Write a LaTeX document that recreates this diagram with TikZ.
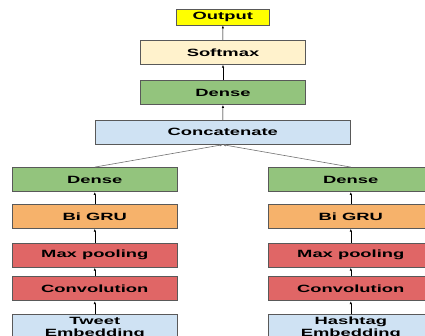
\documentclass[tikz,border=0pt]{standalone}
\usepackage{fontspec}
\newfontfamily\layerfont{Liberation Sans Bold}[FakeStretch=1.75]
\usetikzlibrary{arrows.meta}
\definecolor{outyellow}{HTML}{FFFF00}
\definecolor{softcream}{HTML}{FFF2CC}
\definecolor{densegreen}{HTML}{93C47D}
\definecolor{embblue}{HTML}{CFE2F3}
\definecolor{gruorange}{HTML}{F6B26B}
\definecolor{convred}{HTML}{E06666}
\tikzset{
  layer/.style={draw=black!65, line width=0.8pt, minimum width=165pt, minimum height=24pt,
    inner sep=0pt, font=\layerfont\fontsize{10.5}{12}\selectfont},
  up/.style={-{Latex[length=3pt,width=2.4pt]}, line width=0.6pt},
  merge/.style={-{Latex[length=3pt,width=2.4pt]}, line width=0.6pt, draw=black!55},
}

\begin{document}
\begin{tikzpicture}[x=1pt,y=-1pt]
\clip (0,0) rectangle (425,336);
\fill[white] (0,0) rectangle (425,336);
\node[layer, fill=outyellow, minimum width=93pt, minimum height=16pt] (output) at (222.8,17) {Output};
\node[layer, fill=softcream] (softmax) at (223,52.3) {Softmax};
\node[layer, fill=densegreen] (dense) at (223,92.5) {Dense};
\node[layer, fill=embblue, minimum width=255pt] (concat) at (222.8,132.3) {Concatenate};
\node[layer, fill=densegreen] (dense1) at (94.8,179.5) {Dense};
\node[layer, fill=gruorange] (gru1) at (94.8,216.3) {Bi GRU};
\node[layer, fill=convred] (pool1) at (94.8,255.3) {Max pooling};
\node[layer, fill=convred] (conv1) at (94.8,288.7) {Convolution};
\node[layer, fill=embblue, minimum height=0pt, inner ysep=2.2pt, align=center, anchor=north] (emb1) at (94.8,314.3) {Tweet\\Embedding};
\node[layer, fill=densegreen] (dense2) at (350.8,179.5) {Dense};
\node[layer, fill=gruorange] (gru2) at (350.8,216.3) {Bi GRU};
\node[layer, fill=convred] (pool2) at (350.8,255.3) {Max pooling};
\node[layer, fill=convred] (conv2) at (350.8,288.7) {Convolution};
\node[layer, fill=embblue, minimum height=0pt, inner ysep=2.2pt, align=center, anchor=north] (emb2) at (350.8,314.3) {Hashtag\\Embedding};
\draw[up] (emb1) -- (conv1);
\draw[up] (conv1) -- (pool1);
\draw[up] (pool1) -- (gru1);
\draw[up] (gru1) -- (dense1);
\draw[up] (emb2) -- (conv2);
\draw[up] (conv2) -- (pool2);
\draw[up] (pool2) -- (gru2);
\draw[up] (gru2) -- (dense2);
\draw[merge] (dense1.north) -- (concat.south);
\draw[merge] (dense2.north) -- (concat.south);
\draw[up] (concat) -- (dense);
\draw[up] (dense) -- (softmax);
\draw[up] (softmax) -- (output);
\end{tikzpicture}
\end{document}
